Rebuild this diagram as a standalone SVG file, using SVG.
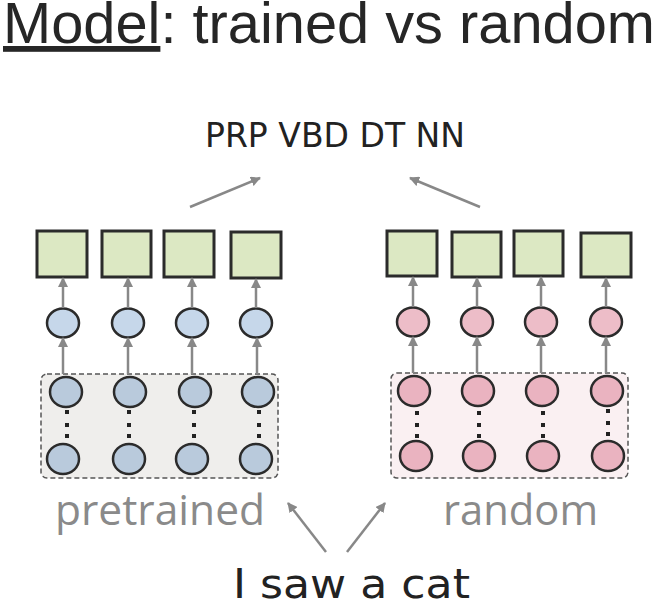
<svg xmlns="http://www.w3.org/2000/svg" width="666" height="604" viewBox="0 0 666 604">
<defs>
<marker id="ah" viewBox="0 0 10 10" refX="9" refY="5" markerWidth="10" markerHeight="10" markerUnits="userSpaceOnUse" orient="auto">
<path d="M0,0 L10,5 L0,10 Z" fill="#888888"/>
</marker>
<style>
.sq{fill:#dce8c3;stroke:#2b2b2b;stroke-width:3}
.cb{fill:#c6d7ea;stroke:#2b2b2b;stroke-width:2.5}
.cbd{fill:#b9cadc;stroke:#2b2b2b;stroke-width:2.5}
.cp{fill:#edbdc8;stroke:#2b2b2b;stroke-width:2.5}
.cpd{fill:#eab3c0;stroke:#2b2b2b;stroke-width:2.5}
.box{stroke:#555;stroke-width:1.5;stroke-dasharray:5 3}
.dot{fill:#222}
.ar{stroke:#888;stroke-width:2.5;fill:none;marker-end:url(#ah)}
.hand{font-family:"DejaVu Sans","Liberation Sans",sans-serif;fill:#222}
.lab{font-family:"Open Sans","Noto Sans",sans-serif;fill:#8a8a8a}
</style>
</defs>
<rect width="666" height="604" fill="#ffffff"/>
<text x="3" y="43" font-family="'Liberation Sans',Arial,sans-serif" font-size="58" fill="#262626" textLength="652" lengthAdjust="spacingAndGlyphs"><tspan text-decoration="underline">Model</tspan>: trained vs random</text>
<text class="hand" x="205" y="147" font-size="33" textLength="260" lengthAdjust="spacingAndGlyphs">PRP VBD DT NN</text>

<g id="pretrained-stack">
<rect class="box" x="41" y="374" width="237" height="104" rx="6" fill="#efeeec"/>
<ellipse class="cbd" cx="66" cy="392" rx="16" ry="15"/>
<ellipse class="cbd" cx="130" cy="392" rx="16" ry="15"/>
<ellipse class="cbd" cx="195" cy="392" rx="16" ry="15"/>
<ellipse class="cbd" cx="258" cy="392" rx="16" ry="15"/>
<ellipse class="cbd" cx="63" cy="459" rx="16" ry="15"/>
<ellipse class="cbd" cx="129" cy="459" rx="16" ry="15"/>
<ellipse class="cbd" cx="192" cy="459" rx="16" ry="15"/>
<ellipse class="cbd" cx="256" cy="459" rx="16" ry="15"/>
<g class="dot">
<rect x="65" y="410" width="4" height="4"/><rect x="65" y="423" width="4" height="4"/><rect x="65" y="434" width="4" height="4"/>
<rect x="127" y="410" width="4" height="4"/><rect x="127" y="423" width="4" height="4"/><rect x="127" y="434" width="4" height="4"/>
<rect x="192" y="410" width="4" height="4"/><rect x="192" y="423" width="4" height="4"/><rect x="192" y="434" width="4" height="4"/>
<rect x="257" y="410" width="4" height="4"/><rect x="257" y="423" width="4" height="4"/><rect x="257" y="434" width="4" height="4"/>
</g>
</g>
<g id="random-stack">
<rect class="box" x="391" y="373" width="237" height="105" rx="6" fill="#faf0f2"/>
<ellipse class="cpd" cx="414" cy="391" rx="16" ry="15"/>
<ellipse class="cpd" cx="478" cy="391" rx="16" ry="15"/>
<ellipse class="cpd" cx="542" cy="391" rx="16" ry="15"/>
<ellipse class="cpd" cx="607" cy="391" rx="16" ry="15"/>
<ellipse class="cpd" cx="416" cy="456" rx="16" ry="15"/>
<ellipse class="cpd" cx="479" cy="456" rx="16" ry="15"/>
<ellipse class="cpd" cx="543" cy="456" rx="16" ry="15"/>
<ellipse class="cpd" cx="608" cy="456" rx="16" ry="15"/>
<g class="dot">
<rect x="415" y="411" width="4" height="4"/><rect x="415" y="423" width="4" height="4"/><rect x="415" y="434" width="4" height="4"/>
<rect x="477" y="411" width="4" height="4"/><rect x="477" y="423" width="4" height="4"/><rect x="477" y="434" width="4" height="4"/>
<rect x="541" y="411" width="4" height="4"/><rect x="541" y="423" width="4" height="4"/><rect x="541" y="434" width="4" height="4"/>
<rect x="606" y="409" width="4" height="4"/><rect x="606" y="421" width="4" height="4"/><rect x="606" y="432" width="4" height="4"/>
</g>
</g>

<g id="left-hidden">
<ellipse class="cb" cx="63" cy="323" rx="16" ry="14.5"/>
<ellipse class="cb" cx="128" cy="323" rx="16" ry="14.5"/>
<ellipse class="cb" cx="192" cy="323" rx="16" ry="14.5"/>
<ellipse class="cb" cx="256" cy="323" rx="16" ry="14.5"/>
</g>
<g id="right-hidden">
<ellipse class="cp" cx="413" cy="322" rx="16" ry="14.5"/>
<ellipse class="cp" cx="477" cy="322" rx="16" ry="14.5"/>
<ellipse class="cp" cx="541" cy="322" rx="16" ry="14.5"/>
<ellipse class="cp" cx="606" cy="322" rx="16" ry="14.5"/>
</g>
<g id="left-outputs">
<rect class="sq" x="37" y="231" width="50" height="46"/>
<rect class="sq" x="102" y="231" width="49" height="46"/>
<rect class="sq" x="164" y="231" width="50" height="46"/>
<rect class="sq" x="231" y="232" width="50" height="46"/>
</g>
<g id="right-outputs">
<rect class="sq" x="387" y="231" width="50" height="45"/>
<rect class="sq" x="452" y="232" width="49" height="45"/>
<rect class="sq" x="514" y="231" width="49" height="45"/>
<rect class="sq" x="581" y="233" width="50" height="44"/>
</g>

<g id="connectors">
<line class="ar" x1="63" y1="374" x2="63" y2="338"/>
<line class="ar" x1="128" y1="374" x2="128" y2="338"/>
<line class="ar" x1="192" y1="374" x2="192" y2="338"/>
<line class="ar" x1="257" y1="374" x2="257" y2="338"/>
<line class="ar" x1="63" y1="308" x2="63" y2="278"/>
<line class="ar" x1="128" y1="308" x2="128" y2="278"/>
<line class="ar" x1="192" y1="308" x2="192" y2="278"/>
<line class="ar" x1="256" y1="308" x2="256" y2="279"/>
<line class="ar" x1="413" y1="373" x2="413" y2="337"/>
<line class="ar" x1="477" y1="373" x2="477" y2="337"/>
<line class="ar" x1="541" y1="373" x2="541" y2="337"/>
<line class="ar" x1="606" y1="373" x2="606" y2="337"/>
<line class="ar" x1="413" y1="307" x2="413" y2="277"/>
<line class="ar" x1="477" y1="307" x2="477" y2="278"/>
<line class="ar" x1="541" y1="307" x2="541" y2="277"/>
<line class="ar" x1="606" y1="307" x2="606" y2="278"/>
<line class="ar" x1="190" y1="207" x2="260" y2="178"/>
<line class="ar" x1="480" y1="207" x2="410" y2="178"/>
<line class="ar" x1="326" y1="552" x2="288" y2="503"/>
<line class="ar" x1="347" y1="552" x2="385" y2="503"/>
</g>

<text class="lab" x="55" y="525" font-size="42" textLength="210" lengthAdjust="spacingAndGlyphs">pretrained</text>
<text class="lab" x="443" y="525" font-size="42" textLength="155" lengthAdjust="spacingAndGlyphs">random</text>
<text class="hand" x="233" y="598" font-size="40" textLength="237" lengthAdjust="spacingAndGlyphs">I saw a cat</text>
</svg>
